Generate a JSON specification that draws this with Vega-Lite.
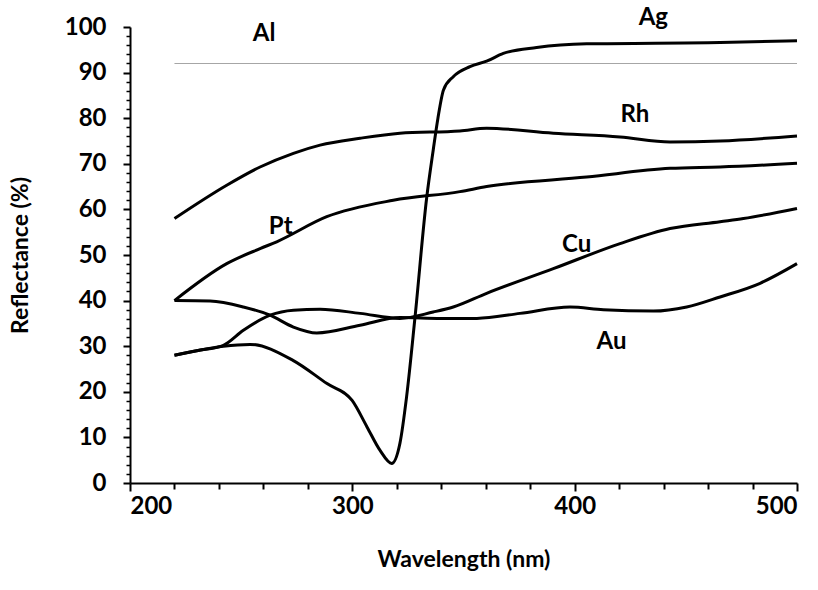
{
  "$schema": "https://vega.github.io/schema/vega-lite/v6.json",
  "width": 667,
  "height": 456,
  "autosize": "none",
  "padding": {"left": 130, "top": 27, "right": 21, "bottom": 107},
  "background": "white",
  "config": {"view": {"stroke": null}, "font": "Lato"},
  "datasets": {
    "curves": [
      {"metal": "Al", "nm": 220, "R": 92.0},
      {"metal": "Al", "nm": 500, "R": 92.0},
      {"metal": "Ag", "nm": 220, "R": 28.0},
      {"metal": "Ag", "nm": 230, "R": 29.0},
      {"metal": "Ag", "nm": 242, "R": 30.0},
      {"metal": "Ag", "nm": 254, "R": 30.4},
      {"metal": "Ag", "nm": 273.3, "R": 26.9},
      {"metal": "Ag", "nm": 288.6, "R": 21.8},
      {"metal": "Ag", "nm": 299.9, "R": 18.1},
      {"metal": "Ag", "nm": 306.6, "R": 12.3},
      {"metal": "Ag", "nm": 312.4, "R": 7.2},
      {"metal": "Ag", "nm": 317.7, "R": 4.3},
      {"metal": "Ag", "nm": 321.4, "R": 8.7},
      {"metal": "Ag", "nm": 324.4, "R": 18.9},
      {"metal": "Ag", "nm": 328.2, "R": 36.4},
      {"metal": "Ag", "nm": 333.4, "R": 62.4},
      {"metal": "Ag", "nm": 336.4, "R": 73.1},
      {"metal": "Ag", "nm": 338.5, "R": 80.0},
      {"metal": "Ag", "nm": 341.0, "R": 86.2},
      {"metal": "Ag", "nm": 345.4, "R": 89.1},
      {"metal": "Ag", "nm": 352.9, "R": 91.3},
      {"metal": "Ag", "nm": 360.4, "R": 92.5},
      {"metal": "Ag", "nm": 367.9, "R": 94.2},
      {"metal": "Ag", "nm": 382.9, "R": 95.5},
      {"metal": "Ag", "nm": 405.4, "R": 96.3},
      {"metal": "Ag", "nm": 465.4, "R": 96.6},
      {"metal": "Ag", "nm": 500, "R": 97.0},
      {"metal": "Cu", "nm": 220, "R": 28.0},
      {"metal": "Cu", "nm": 230, "R": 29.0},
      {"metal": "Cu", "nm": 242, "R": 30.2},
      {"metal": "Cu", "nm": 251, "R": 33.5},
      {"metal": "Cu", "nm": 263, "R": 36.8},
      {"metal": "Cu", "nm": 273.5, "R": 37.9},
      {"metal": "Cu", "nm": 285.5, "R": 38.1},
      {"metal": "Cu", "nm": 303.5, "R": 37.2},
      {"metal": "Cu", "nm": 321.4, "R": 36.1},
      {"metal": "Cu", "nm": 336.4, "R": 37.5},
      {"metal": "Cu", "nm": 345.4, "R": 38.6},
      {"metal": "Cu", "nm": 360.4, "R": 41.6},
      {"metal": "Cu", "nm": 390.4, "R": 47.0},
      {"metal": "Cu", "nm": 420.4, "R": 52.5},
      {"metal": "Cu", "nm": 442.9, "R": 55.8},
      {"metal": "Cu", "nm": 465.4, "R": 57.3},
      {"metal": "Cu", "nm": 475.9, "R": 58.0},
      {"metal": "Cu", "nm": 500, "R": 60.2},
      {"metal": "Au", "nm": 220, "R": 40.0},
      {"metal": "Au", "nm": 236, "R": 39.9},
      {"metal": "Au", "nm": 251, "R": 38.6},
      {"metal": "Au", "nm": 263, "R": 36.8},
      {"metal": "Au", "nm": 273.5, "R": 34.2},
      {"metal": "Au", "nm": 284, "R": 32.9},
      {"metal": "Au", "nm": 303.5, "R": 34.6},
      {"metal": "Au", "nm": 321.4, "R": 36.3},
      {"metal": "Au", "nm": 340, "R": 36.1},
      {"metal": "Au", "nm": 356, "R": 36.1},
      {"metal": "Au", "nm": 375.4, "R": 37.2},
      {"metal": "Au", "nm": 397.9, "R": 38.6},
      {"metal": "Au", "nm": 412.9, "R": 38.0},
      {"metal": "Au", "nm": 435.4, "R": 37.7},
      {"metal": "Au", "nm": 450.4, "R": 38.6},
      {"metal": "Au", "nm": 465.4, "R": 40.8},
      {"metal": "Au", "nm": 483.4, "R": 43.8},
      {"metal": "Au", "nm": 500, "R": 48.1},
      {"metal": "Pt", "nm": 220, "R": 40.0},
      {"metal": "Pt", "nm": 243.5, "R": 48.1},
      {"metal": "Pt", "nm": 258.5, "R": 51.4},
      {"metal": "Pt", "nm": 266, "R": 52.9},
      {"metal": "Pt", "nm": 288.5, "R": 58.4},
      {"metal": "Pt", "nm": 318.4, "R": 62.0},
      {"metal": "Pt", "nm": 348.4, "R": 63.9},
      {"metal": "Pt", "nm": 360.4, "R": 65.0},
      {"metal": "Pt", "nm": 405.4, "R": 67.1},
      {"metal": "Pt", "nm": 442.9, "R": 69.0},
      {"metal": "Pt", "nm": 465.4, "R": 69.3},
      {"metal": "Pt", "nm": 500, "R": 70.1},
      {"metal": "Rh", "nm": 220, "R": 58.0},
      {"metal": "Rh", "nm": 243.5, "R": 65.3},
      {"metal": "Rh", "nm": 258.5, "R": 69.3},
      {"metal": "Rh", "nm": 273.5, "R": 72.3},
      {"metal": "Rh", "nm": 285.5, "R": 74.1},
      {"metal": "Rh", "nm": 303.5, "R": 75.6},
      {"metal": "Rh", "nm": 321.4, "R": 76.7},
      {"metal": "Rh", "nm": 348.4, "R": 77.2},
      {"metal": "Rh", "nm": 360.4, "R": 77.8},
      {"metal": "Rh", "nm": 390.4, "R": 76.7},
      {"metal": "Rh", "nm": 420.4, "R": 75.9},
      {"metal": "Rh", "nm": 442.9, "R": 74.8},
      {"metal": "Rh", "nm": 465.4, "R": 75.0},
      {"metal": "Rh", "nm": 500, "R": 76.1}
    ],
    "labels": [
      {"label": "Al", "nm": 260.3, "R": 98.5},
      {"label": "Ag", "nm": 435.4, "R": 101.9},
      {"label": "Rh", "nm": 427.1, "R": 80.7},
      {"label": "Pt", "nm": 267.8, "R": 56.2},
      {"label": "Cu", "nm": 400.9, "R": 52.2},
      {"label": "Au", "nm": 416.6, "R": 30.9}
    ]
  },
  "encoding": {
    "x": {
      "field": "nm", "type": "quantitative",
      "scale": {"domain": [200, 500], "nice": false, "zero": false},
      "axis": {
        "orient": "bottom",
        "values": [200, 220, 240, 260, 280, 300, 320, 340, 360, 380, 400, 420, 440, 460, 480, 500],
        "labelExpr": "datum.value % 100 === 0 ? datum.label : ''",
        "grid": false,
        "domainColor": "black", "domainWidth": 2,
        "tickColor": "black", "tickWidth": 2,
        "tickSize": {"condition": {"test": "datum.value % 100 === 0", "value": 8}, "value": 6},
        "labelFont": "Lato", "labelFontSize": 24, "labelFontWeight": "bold", "labelColor": "black",
        "labelPadding": 3,
        "title": "Wavelength (nm)",
        "titleFont": "Lato", "titleFontSize": 23, "titleFontWeight": "bold", "titleColor": "black",
        "titlePadding": 30
      }
    },
    "y": {
      "field": "R", "type": "quantitative",
      "scale": {"domain": [0, 100], "nice": false},
      "axis": {
        "orient": "left",
        "values": [0, 2, 4, 6, 8, 10, 12, 14, 16, 18, 20, 22, 24, 26, 28, 30, 32, 34, 36, 38, 40, 42, 44, 46, 48, 50, 52, 54, 56, 58, 60, 62, 64, 66, 68, 70, 72, 74, 76, 78, 80, 82, 84, 86, 88, 90, 92, 94, 96, 98, 100],
        "labelExpr": "datum.value % 10 === 0 ? datum.label : ''",
        "grid": false,
        "domainColor": "black", "domainWidth": 2,
        "tickColor": "black",
        "tickWidth": {"condition": {"test": "datum.value % 10 === 0", "value": 2}, "value": 1.5},
        "tickSize": {"condition": {"test": "datum.value % 10 === 0", "value": 7}, "value": 4},
        "labelFont": "Lato", "labelFontSize": 24, "labelFontWeight": "bold", "labelColor": "black",
        "labelPadding": 17,
        "title": "Reflectance (%)",
        "titleFont": "Lato", "titleFontSize": 23, "titleFontWeight": "bold", "titleColor": "black",
        "titlePadding": 32
      }
    }
  },
  "layer": [
    {
      "data": {"name": "curves"},
      "transform": [{"filter": "datum.metal === 'Al'"}],
      "mark": {"type": "line", "color": "#a6a6a6", "strokeWidth": 1.2},
      "encoding": {"detail": {"field": "metal"}}
    },
    {
      "data": {"name": "curves"},
      "transform": [{"filter": "datum.metal !== 'Al'"}],
      "mark": {"type": "line", "interpolate": "monotone", "color": "black", "strokeWidth": 3},
      "encoding": {"detail": {"field": "metal"}}
    },
    {
      "data": {"name": "labels"},
      "mark": {"type": "text", "font": "Lato", "fontWeight": "bold", "fontSize": 24, "color": "black", "align": "center", "baseline": "middle"},
      "encoding": {"text": {"field": "label"}}
    }
  ]
}
